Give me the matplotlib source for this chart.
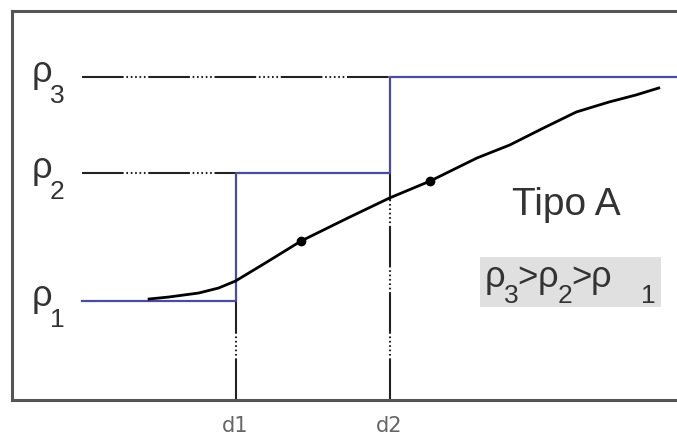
import matplotlib.pyplot as plt
from matplotlib.patches import Rectangle

plt.rcParams['font.family'] = ['Liberation Sans', 'DejaVu Sans']

# levels of density (rho) and the two boundaries
rho_names = ['1', '2', '3']
rho_levels = [136, 264, 360]
d_names = ['d1', 'd2']
d_pos = [237, 392]
x_start = 82
x_end = 682

# measured profile (the smooth "Tipo A" curve)
curve_x = [150, 170, 200, 220, 237, 267, 303, 350, 392, 433, 480, 513, 547, 580, 613, 640, 663]
curve_y = [138, 140, 144, 149, 156, 174, 196, 219, 239, 256, 279, 292, 309, 325, 335, 342, 349]
dot_x = [303, 433]
dot_y = [196, 256]

order_names = ['3', '2', '1']

fig = plt.figure(figsize=(6.77, 4.37), dpi=100)
ax = fig.add_axes([12 / 677, 1 - 400 / 437, 1.02 - 12 / 677, 389 / 437])
ax.set_xlim(12, 695)
ax.set_ylim(37, 426)
ax.set_xticks([])
ax.set_yticks([])
for s in ax.spines.values():
    s.set_linewidth(2.2)
    s.set_color('#555555')

dash = (0, (20, 1.3, 0.8, 1.3, 0.8, 1.3, 0.8, 1.3, 0.8, 1.3, 0.8, 1.3))
blue = '#4c4c9e'
txt = '#333333'

# dashed reference lines for rho2 and rho3 up to the step
ax.plot([x_start, d_pos[0]], [rho_levels[1]] * 2, color='#222222', lw=1.5, ls=dash)
ax.plot([x_start, d_pos[1]], [rho_levels[2]] * 2, color='#222222', lw=1.5, ls=dash)

# vertical dashed lines at d1, d2
for d, lv in zip(d_pos, rho_levels[:2]):
    ax.plot([d, d], [37, lv], color='#222222', lw=1.5, ls=dash)

# step function
step_x = [x_start, d_pos[0], d_pos[0], d_pos[1], d_pos[1], x_end]
step_y = [rho_levels[0], rho_levels[0], rho_levels[1], rho_levels[1], rho_levels[2], rho_levels[2]]
ax.plot(step_x, step_y, color=blue, lw=1.6)

# smooth profile
ax.plot(curve_x, curve_y, color='black', lw=2.0)
ax.plot(dot_x, dot_y, 'o', color='black', ms=6)

# rho labels on the left
for n, lv in zip(rho_names, rho_levels):
    ax.text(32, lv - 5, 'ρ', fontsize=26, color=txt, ha='left', va='baseline')
    ax.text(50, lv - 26, n, fontsize=19, color=txt, ha='left', va='baseline')

ax.text(570, 222, 'Tipo A', fontsize=28, color=txt, ha='center', va='baseline')

# grey box with rho3>rho2>rho1
ax.add_patch(Rectangle((483, 130), 182, 50, facecolor='#e0e0e0', edgecolor='none'))
rho_x = [488, 541, 594]
sub_x = [507, 561, 645]
for i, n in enumerate(order_names):
    ax.text(rho_x[i], 150, 'ρ', fontsize=26, color=txt, ha='left', va='baseline')
    ax.text(sub_x[i], 134, n, fontsize=19, color=txt, ha='left', va='baseline')
for gx in [521, 575]:
    ax.text(gx, 150, '>', fontsize=25, color=txt, ha='left', va='baseline')

for n, d in zip(d_names, d_pos):
    ax.text(d, 11, n, fontsize=15, color='#666666', ha='center', va='center',
            family='DejaVu Sans', clip_on=False)

fig.savefig('out.png', dpi=100)
